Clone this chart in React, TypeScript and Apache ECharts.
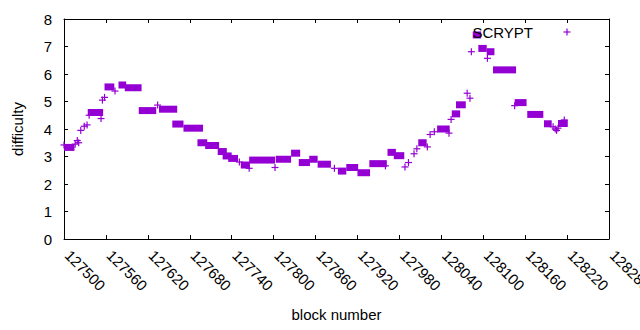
import React, { useEffect, useRef } from "react";
import * as echarts from "echarts";

// Runs of equal difficulty: first block, last block, difficulty value
const runStart = [
  127500, 127505, 127516, 127519, 127521, 127524, 127529, 127533, 127536, 127539,
  127553, 127555, 127558, 127563, 127573, 127583, 127592, 127612, 127634, 127641,
  127660, 127676, 127696, 127707, 127725, 127732, 127740, 127751, 127758, 127765,
  127770, 127802, 127808, 127830, 127841, 127856, 127868, 127887, 127897, 127909,
  127925, 127942, 127960, 127968, 127977, 127988, 127993, 128001, 128005, 128012,
  128020, 128024, 128030, 128039, 128051, 128054, 128060, 128066, 128077, 128081,
  128083, 128090, 128098, 128106, 128110, 128119, 128145, 128150, 128168, 128192,
  128200, 128203, 128205, 128207, 128212, 128216,
];
const runEnd = [
  127500, 127510, 127516, 127519, 127521, 127524, 127529, 127533, 127536, 127551,
  127553, 127555, 127558, 127567, 127573, 127584, 127606, 127627, 127634, 127657,
  127666, 127694, 127700, 127717, 127728, 127735, 127744, 127751, 127761, 127765,
  127797, 127802, 127820, 127833, 127847, 127858, 127877, 127887, 127899, 127916,
  127933, 127957, 127960, 127970, 127982, 127988, 127993, 128001, 128005, 128014,
  128020, 128024, 128030, 128047, 128051, 128054, 128062, 128070, 128077, 128081,
  128083, 128092, 128100, 128106, 128111, 128142, 128145, 128157, 128181, 128193,
  128200, 128203, 128205, 128207, 128216, 128216,
];
const difficulty = [
  3.42, 3.33, 3.45, 3.58, 3.5, 3.95, 4.1, 4.15, 4.5, 4.6,
  4.38, 5.05, 5.15, 5.53, 5.38, 5.6, 5.5, 4.67, 4.87, 4.72,
  4.18, 4.03, 3.5, 3.4, 3.18, 3.02, 2.93, 2.8, 2.69, 2.57,
  2.87, 2.6, 2.9, 3.12, 2.78, 2.9, 2.72, 2.57, 2.47, 2.6,
  2.41, 2.74, 2.66, 3.15, 3.03, 2.62, 2.78, 3.1, 3.28, 3.5,
  3.35, 3.8, 3.9, 4.0, 3.85, 4.35, 4.55, 4.88, 5.3, 5.12,
  6.81, 7.42, 6.93, 6.57, 6.81, 6.15, 4.85, 4.96, 4.53, 4.19,
  4.08, 4.0, 3.95, 4.03, 4.2, 4.33,
];

const X_MIN = 127500;
const X_MAX = 128280;
const X_STEP = 60;
const Y_MIN = 0;
const Y_MAX = 8;
const Y_STEP = 1;
const SERIES_NAME = "SCRYPT";

const COLOR = "#9400D3";
const FONT = "Liberation Sans, Arial, sans-serif";
const FS = 15;
const H = 3.5;

export default function App() {
  const ref = useRef<HTMLDivElement>(null);
  useEffect(() => {
    if (!ref.current) return;
    document.body.style.margin = "0";
    const chart = echarts.init(ref.current, undefined, { renderer: "svg" });
    const data = runStart.map((s, i) => [s, runEnd[i], difficulty[i]]);

    const axisCommon = {
      axisLine: { show: true, onZero: false, lineStyle: { color: "#000", width: 1 } },
      axisTick: { show: true, inside: true, length: 4, lineStyle: { color: "#000", width: 1 } },
      splitLine: { show: false },
    };

    const option: any = {
      animation: false,
      textStyle: { fontFamily: FONT },
      grid: {
        left: 64,
        right: 31,
        top: 19,
        bottom: 91,
        containLabel: false,
        outerBoundsMode: "none",
      },
      xAxis: [
        {
          type: "value",
          min: X_MIN,
          max: X_MAX,
          interval: X_STEP,
          position: "bottom",
          name: "block number",
          nameLocation: "middle",
          nameGap: 68,
          nameTextStyle: { fontSize: FS, color: "#000", fontFamily: FONT },
          axisLabel: {
            rotate: -45,
            fontSize: FS,
            color: "#000",
            fontFamily: FONT,
            margin: 10,
            padding: [0, 0, 0, 5],
            showMinLabel: true,
            showMaxLabel: true,
            formatter: (v: number) => String(v),
          },
          ...axisCommon,
        },
        {
          type: "value",
          min: X_MIN,
          max: X_MAX,
          interval: X_STEP,
          position: "top",
          axisLabel: { show: false },
          ...axisCommon,
        },
      ],
      yAxis: [
        {
          type: "value",
          min: Y_MIN,
          max: Y_MAX,
          interval: Y_STEP,
          position: "left",
          name: "difficulty",
          nameLocation: "middle",
          nameGap: 39,
          nameTextStyle: { fontSize: FS, color: "#000", fontFamily: FONT },
          axisLabel: {
            fontSize: FS,
            color: "#000",
            fontFamily: FONT,
            margin: 12,
            formatter: (v: number) => String(v),
          },
          ...axisCommon,
        },
        {
          type: "value",
          min: Y_MIN,
          max: Y_MAX,
          interval: Y_STEP,
          position: "right",
          axisLabel: { show: false },
          ...axisCommon,
        },
      ],
      series: [
        {
          type: "custom",
          name: SERIES_NAME,
          xAxisIndex: 0,
          yAxisIndex: 0,
          encode: { x: [0, 1], y: 2 },
          data,
          renderItem: (params: any, api: any) => {
            const s = api.value(0);
            const e = api.value(1);
            const v = api.value(2);
            const p1 = api.coord([s, v]);
            const p2 = api.coord([e, v]);
            if (e > s) {
              return {
                type: "rect",
                shape: {
                  x: p1[0] - H,
                  y: p1[1] - H,
                  width: p2[0] - p1[0] + 2 * H,
                  height: 2 * H,
                },
                style: { fill: COLOR },
              };
            }
            return {
              type: "group",
              children: [
                {
                  type: "line",
                  shape: { x1: p1[0] - H, y1: p1[1], x2: p1[0] + H, y2: p1[1] },
                  style: { stroke: COLOR, lineWidth: 1.2 },
                },
                {
                  type: "line",
                  shape: { x1: p1[0], y1: p1[1] - H, x2: p1[0], y2: p1[1] + H },
                  style: { stroke: COLOR, lineWidth: 1.2 },
                },
              ],
            };
          },
        },
      ],
      graphic: [
        {
          type: "text",
          x: 533,
          y: 32,
          z: 100,
          style: {
            text: SERIES_NAME,
            fontSize: FS,
            fontFamily: FONT,
            fill: "#000",
            align: "right",
            verticalAlign: "middle",
          },
        },
        {
          type: "line",
          shape: { x1: 563.5, y1: 32, x2: 570.5, y2: 32 },
          style: { stroke: COLOR, lineWidth: 1.2 },
        },
        {
          type: "line",
          shape: { x1: 567, y1: 28.5, x2: 567, y2: 35.5 },
          style: { stroke: COLOR, lineWidth: 1.2 },
        },
      ],
    };
    chart.setOption(option);
    return () => chart.dispose();
  }, []);
  return <div ref={ref} style={{ width: 640, height: 330 }} />;
}
